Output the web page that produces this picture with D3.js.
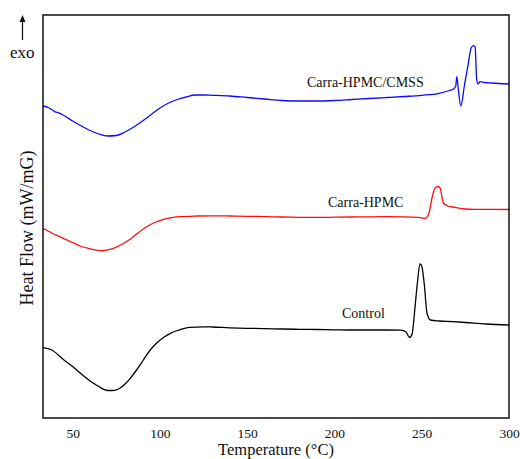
<!DOCTYPE html>
<html>
<head>
<meta charset="utf-8">
<script src="https://cdn.jsdelivr.net/npm/d3@7/dist/d3.min.js"></script>
<style>
  body { margin: 0; background: #fff; }
  svg text { font-family: "Liberation Serif", "Times New Roman", serif; fill: #111; }
</style>
</head>
<body>
<svg id="chart" width="520" height="459"></svg>
<script>
// temperature (°C) and heat flow (arbitrary offset, mW/mg)
const cmssT = [33,36,38,40,42,45,50,55,60,65,70,75,80,85,90,95,100,105,110,115,120,125,130,140,150,160,170,180,190,200,210,220,230,240,250,260,266,268,269.5,270.1,271,272.4,274.5,276.7,278.3,279.6,280.6,281.5,282.3,283.4,286,290,300];
const cmssV = [3.12,3.105,3.085,3.062,3.052,3.025,2.97,2.92,2.875,2.84,2.82,2.825,2.86,2.91,2.97,3.035,3.10,3.15,3.185,3.21,3.23,3.23,3.227,3.22,3.205,3.19,3.175,3.17,3.17,3.175,3.185,3.195,3.205,3.215,3.227,3.247,3.275,3.287,3.32,3.413,3.28,3.12,3.33,3.547,3.70,3.723,3.71,3.38,3.34,3.363,3.355,3.35,3.34];

const hpmcT = [33,38,44.6,50,54.2,60,66.6,73.3,78,82.9,87,92.4,97,102,106,111.5,121,130,140,150,160,170,180,190,200,210,220,230,240,248,252,254,256,257.6,259.5,260.5,262.4,265,268,275,280,290,300];
const hpmcV = [1.897,1.85,1.797,1.755,1.72,1.692,1.673,1.697,1.735,1.787,1.845,1.913,1.955,1.987,2.002,2.013,2.02,2.022,2.02,2.017,2.014,2.01,2.007,2.006,2.008,2.01,2.012,2.013,2.012,2.007,1.997,2.04,2.21,2.30,2.315,2.30,2.15,2.12,2.11,2.09,2.087,2.087,2.085];

const ctrlT = [33,38,45,50,55,60,65,70,74,77,80,83,87,90.5,94,98,102,106,110,117,125,130,140,150,160,170,180,190,200,210,220,230,238,241,243,244.5,246,247.5,249,250,251.5,253,255,260,268,275,287,300];
const ctrlV = [0.703,0.68,0.58,0.515,0.44,0.37,0.315,0.275,0.277,0.297,0.34,0.397,0.49,0.58,0.67,0.747,0.805,0.847,0.875,0.907,0.912,0.91,0.902,0.897,0.894,0.89,0.887,0.885,0.882,0.88,0.88,0.88,0.878,0.86,0.805,0.84,1.08,1.35,1.54,1.52,1.33,1.05,0.98,0.97,0.963,0.955,0.94,0.93];

const xTicks = [50, 100, 150, 200, 250, 300];

const series = [
  {name: "Carra-HPMC/CMSS", T: cmssT, V: cmssV, color: "#0a0aff", lx: 307, lv: 3.315},
  {name: "Carra-HPMC", T: hpmcT, V: hpmcV, color: "#ff0d0d", lx: 328, lv: 2.115},
  {name: "Control", T: ctrlT, V: ctrlV, color: "#000", lx: 342, lv: 1.005}
];

const svg = d3.select("#chart");
const m = {left: 43, right: 509, top: 15, bottom: 418};

const x = d3.scaleLinear().domain([33, 300]).range([m.left, m.right]);
const y = d3.scaleLinear().domain([0, 4.03]).range([m.bottom, m.top]);

const line = d3.line()
  .x(d => x(d[0]))
  .y(d => y(d[1]))
  .curve(d3.curveMonotoneX);

series.forEach(function(s){
  const pts = s.T.map((t, i) => [t, s.V[i]]);
  svg.append("path")
    .datum(pts)
    .attr("d", line)
    .attr("fill", "none")
    .attr("stroke", s.color)
    .attr("stroke-width", 1.3);

  svg.append("text")
    .attr("x", s.lx)
    .attr("y", y(s.lv))
    .attr("font-size", 14)
    .text(s.name);
});

// frame
svg.append("rect")
  .attr("x", m.left).attr("y", m.top)
  .attr("width", m.right - m.left).attr("height", m.bottom - m.top)
  .attr("fill", "none")
  .attr("stroke", "#111")
  .attr("stroke-width", 1.5);

// x axis
const xAxis = svg.append("g")
  .attr("transform", "translate(0," + m.bottom + ")")
  .call(d3.axisBottom(x).tickValues(xTicks).tickSize(0).tickPadding(10));
xAxis.select(".domain").remove();
xAxis.selectAll("text")
  .style("font-family", "'Liberation Serif', serif")
  .style("font-size", "13.5px")
  .style("fill", "#111");

svg.append("text")
  .attr("x", (m.left + m.right) / 2)
  .attr("y", 455)
  .attr("text-anchor", "middle")
  .attr("font-size", 16.5)
  .text("Temperature (°C)");

svg.append("text")
  .attr("transform", "translate(33,228) rotate(-90)")
  .attr("text-anchor", "middle")
  .attr("font-size", 18)
  .text("Heat Flow (mW/mG)");

// exo arrow
svg.append("line")
  .attr("x1", 22.5).attr("x2", 22.5)
  .attr("y1", 40).attr("y2", 20)
  .attr("stroke", "#111").attr("stroke-width", 1.2);
svg.append("path")
  .attr("d", "M22.5,15 L19.5,22 L25.5,22 Z")
  .attr("fill", "#111");
svg.append("text")
  .attr("x", 10).attr("y", 58)
  .attr("font-size", 17)
  .text("exo");
</script>
</body>
</html>
